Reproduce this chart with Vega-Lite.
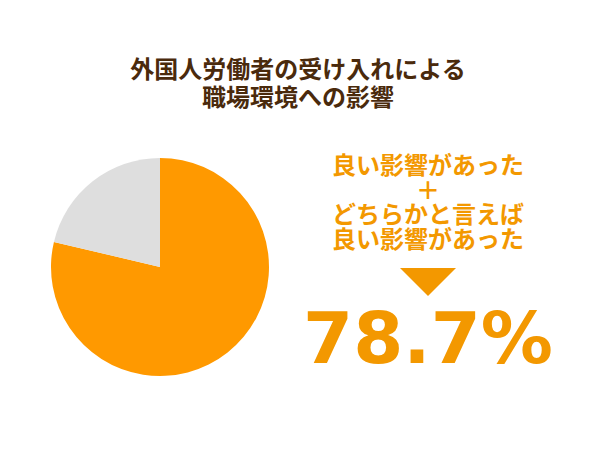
{
  "$schema": "https://vega.github.io/schema/vega-lite/v6.json",
  "background": "white",
  "padding": {"left": 40, "top": 59, "right": 0, "bottom": 0},
  "spacing": 20,
  "config": {"view": {"stroke": null}},
  "title": {
    "text": ["外国人労働者の受け入れによる", "職場環境への影響"],
    "font": "Noto Sans CJK JP",
    "fontSize": 24,
    "fontWeight": "bold",
    "lineHeight": 28,
    "color": "#4a2a0c",
    "anchor": "middle",
    "offset": 36
  },
  "datasets": {
    "share": [
      {"answer": "良い影響があった＋どちらかと言えば良い影響があった", "value": 0.787, "rank": 1},
      {"answer": "その他", "value": 0.213, "rank": 2}
    ],
    "lines": [
      {"line": "a", "label": "良い影響があった"},
      {"line": "b", "label": "＋"},
      {"line": "c", "label": "どちらかと言えば"},
      {"line": "d", "label": "良い影響があった"}
    ]
  },
  "hconcat": [
    {
      "width": 240,
      "height": 240,
      "data": {"name": "share"},
      "mark": {"type": "arc", "radius": 109},
      "encoding": {
        "theta": {"field": "value", "type": "quantitative", "stack": true},
        "order": {"field": "rank", "type": "quantitative"},
        "color": {
          "field": "answer",
          "type": "nominal",
          "scale": {
            "domain": ["良い影響があった＋どちらかと言えば良い影響があった", "その他"],
            "range": ["#ff9900", "#dedede"]
          },
          "legend": null
        }
      }
    },
    {
      "spacing": 0,
      "vconcat": [
        {
          "width": 256,
          "height": 118,
          "data": {"name": "lines"},
          "mark": {
            "type": "text",
            "font": "Noto Sans CJK JP",
            "fontSize": 24,
            "fontWeight": "bold",
            "color": "#f39800"
          },
          "encoding": {
            "y": {
              "field": "line",
              "type": "nominal",
              "scale": {"type": "point", "padding": 0.908, "align": 0.45},
              "axis": null
            },
            "text": {"field": "label"}
          }
        },
        {
          "width": 256,
          "height": 34,
          "data": {"values": [{"marker": "arrow"}]},
          "mark": {
            "type": "point",
            "shape": "M-1,-0.5L1,-0.5L0,0.5Z",
            "size": 3136,
            "filled": true,
            "opacity": 1,
            "color": "#f39800"
          },
          "encoding": {}
        },
        {
          "width": 256,
          "height": 84,
          "data": {"name": "share"},
          "transform": [{"filter": "datum.rank == 1"}],
          "mark": {
            "type": "text",
            "font": "DejaVu Sans",
            "fontSize": 72,
            "fontWeight": "bold",
            "baseline": "middle",
            "color": "#f39800"
          },
          "encoding": {
            "text": {"field": "value", "type": "quantitative", "format": ".1%"}
          }
        }
      ]
    }
  ]
}
